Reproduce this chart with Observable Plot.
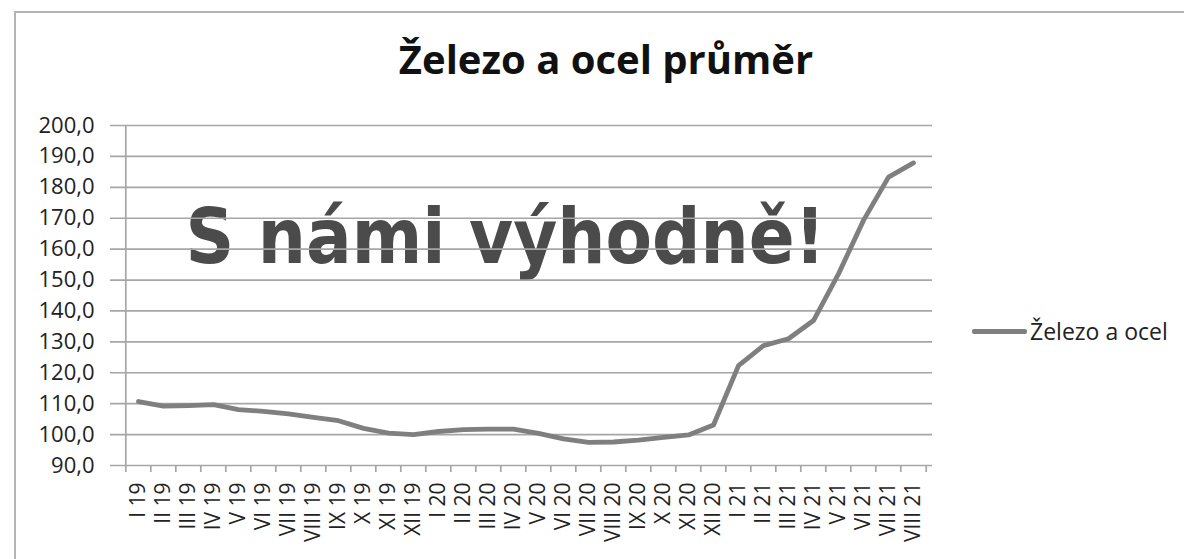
<!DOCTYPE html>
<html>
<head>
<meta charset="utf-8">
<script src="https://cdn.jsdelivr.net/npm/d3@7"></script>
<script src="https://cdn.jsdelivr.net/npm/@observablehq/plot@0.6"></script>
<style>
  html, body { margin: 0; padding: 0; background: #fff; }
  #wrap { position: relative; width: 1184px; height: 559px; overflow: hidden; background: #fff; font-family: "Open Sans", sans-serif; }
  #frame { position: absolute; left: 14px; top: 11px; right: -4px; bottom: -4px; border-top: 2px solid #b4b4b4; border-left: 2px solid #b4b4b4; }
  #title { position: absolute; left: 0; width: 1212px; top: 34px; text-align: center; font-size: 40px; font-weight: 700; color: #111; line-height: 50px; }
  #chart { position: absolute; left: 0; top: 0; }
  #legend { position: absolute; left: 972px; top: 315px; display: flex; align-items: center; font-size: 23px; color: #222; }
  #legend .sw { width: 55px; height: 5px; background: #7f7f7f; border-radius: 2px; margin-right: 3px; }
  svg [aria-label^="x-axis"] text { font-size: 21px; }
  svg [aria-label^="y-axis"] text { font-size: 22px; }
</style>
</head>
<body>
<div id="wrap">
  <div id="frame"></div>
  <div id="chart"></div>
  <div id="title"></div>
  <div id="legend"><div class="sw"></div><span id="legtext"></span></div>
</div>
<script>
const title = "Železo a ocel průměr";
const seriesName = "Železo a ocel";
const watermark = "S námi výhodně!";

const categories = [
  "I 19","II 19","III 19","IV 19","V 19","VI 19","VII 19","VIII 19","IX 19","X 19","XI 19","XII 19",
  "I 20","II 20","III 20","IV 20","V 20","VI 20","VII 20","VIII 20","IX 20","X 20","XI 20","XII 20",
  "I 21","II 21","III 21","IV 21","V 21","VI 21","VII 21","VIII 21"
];
const values = [
  110.7, 109.2, 109.4, 109.7, 108.1, 107.5, 106.7, 105.6, 104.5, 102.0, 100.5, 100.0,
  101.0, 101.6, 101.8, 101.8, 100.4, 98.6, 97.5, 97.6, 98.2, 99.1, 99.9, 103.1,
  122.3, 128.8, 131.0, 136.9, 152.0, 169.3, 183.3, 187.9
];
const yTicks = [90, 100, 110, 120, 130, 140, 150, 160, 170, 180, 190, 200];

document.getElementById("title").textContent = title;
document.getElementById("legtext").textContent = seriesName;

const data = categories.map((c, i) => ({c, v: values[i]}));

const W = 1184, H = 559, mL = 119, mR = 252, mT = 125, mB = 94;
const step = (W - mL - mR) / categories.length;
const gridColor = "#a6a6a6";

const chart = Plot.plot({
  width: W, height: H,
  marginLeft: mL, marginRight: mR, marginTop: mT, marginBottom: mB,
  style: {fontFamily: "Open Sans, sans-serif", fontSize: "21px", color: "#222", background: "transparent", overflow: "visible"},
  x: {type: "point", domain: categories, padding: 0.5, tickRotate: -90, tickSize: 0, tickPadding: 17, label: null},
  y: {domain: [90, 200], ticks: yTicks, tickSize: 0, tickPadding: 25, label: null,
      tickFormat: d => d.toFixed(1).replace(".", ",")},
  marks: [
    Plot.text([watermark], {frameAnchor: "top-left", lineAnchor: "middle", dx: 185 - mL, dy: 113, textAnchor: "start",
      fontSize: 76, fontWeight: "bold", fontFamily: "DejaVu Sans", fill: "#4b4b4b"}),
    Plot.ruleY(yTicks, {stroke: gridColor, strokeWidth: 1.7, insetLeft: -9}),
    Plot.ruleX([categories[0]], {y1: 90, y2: 200, dx: -step / 2, stroke: gridColor, strokeWidth: 1.7}),
    Plot.ruleX(categories, {y1: 90, y2: 90, insetBottom: -7, dx: -step / 2, stroke: gridColor, strokeWidth: 1.7}),
    Plot.ruleX([categories[categories.length - 1]], {y1: 90, y2: 90, insetBottom: -7, dx: step / 2, stroke: gridColor, strokeWidth: 1.7}),
    Plot.line(data, {x: "c", y: "v", stroke: "#7f7f7f", strokeWidth: 4.8, strokeLinejoin: "round", strokeLinecap: "round"})
  ]
});
document.getElementById("chart").appendChild(chart);

// squeeze watermark to the reference width
const wm = Array.from(chart.querySelectorAll("text")).find(t => t.textContent === watermark);
if (wm) { wm.setAttribute("textLength", 640); wm.setAttribute("lengthAdjust", "spacingAndGlyphs"); }
</script>
</body>
</html>
